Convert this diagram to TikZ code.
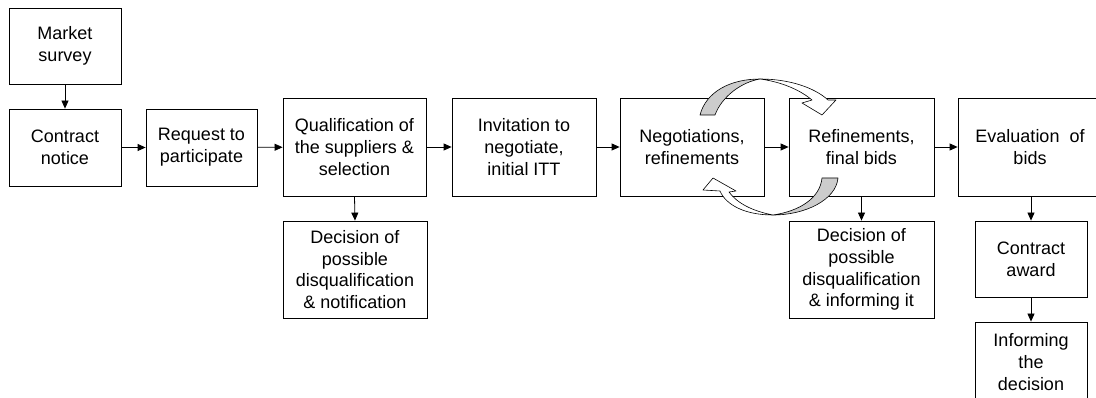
\documentclass[tikz,border=0pt]{standalone}
\usepackage{fontspec}
\setmainfont{Liberation Sans}
\usetikzlibrary{arrows.meta}
\begin{document}
\begin{tikzpicture}[x=1pt,y=-1pt,
  box/.style={draw, line width=0.8pt, inner sep=0pt, align=center,
              font=\fontsize{18}{21.7}\selectfont},
  flow/.style={draw, line width=0.8pt, -{Triangle[length=8pt,width=7pt]}},
  bandback/.style={draw, fill=gray!40, line width=0.6pt, line join=round},
  bandfront/.style={draw, fill=white, line width=0.6pt, line join=round},
]
\clip (0,0) rectangle (1096,398);
\fill[white] (0,0) rectangle (1096,398);

% process steps
\node[box, minimum width=112pt, minimum height=76pt] (ms) at (65,46) {Market\\survey};
\node[box, minimum width=112pt, minimum height=77pt] (cn) at (65,147.5) {Contract\\notice};
\node[box, minimum width=111pt, minimum height=77pt] (rp) at (201.5,147.5) {Request to\\participate};
\node[box, minimum width=143pt, minimum height=98pt] (qs) at (354.5,147) {Qualification of\\the suppliers \&\\selection};
\node[box, minimum width=144pt, minimum height=98pt] (it) at (524,147) {Invitation to\\negotiate,\\initial ITT};
\node[box, minimum width=144pt, minimum height=98pt] (ng) at (692,147) {Negotiations,\\refinements};
\node[box, minimum width=145pt, minimum height=98pt] (rf) at (861.5,147) {Refinements,\\final bids};
\node[box, minimum width=144pt, minimum height=98pt] (ev) at (1030,147) {Evaluation\ \ of\\bids};
\node[box, minimum width=144pt, minimum height=97pt] (d1) at (355,269.5) {Decision of\\possible\\disqualification\\\& notification};
\node[box, minimum width=145pt, minimum height=97pt] (d2) at (861.5,269.5) {Decision of\\possible\\disqualification\\\& informing it};
\node[box, minimum width=112pt, minimum height=76pt] (ca) at (1031,259) {Contract\\award};
\node[box, minimum width=112pt, minimum height=80pt] (inf) at (1031,362) {Informing\\the\\decision};

% connectors
\draw[flow] (ms) -- (cn);
\draw[flow] (cn) -- (rp);
\draw[flow] (rp) -- (qs);
\draw[flow] (qs) -- (it);
\draw[flow] (it) -- (ng);
\draw[flow] (ng) -- (rf);
\draw[flow] (rf) -- (ev);
\draw[flow] (qs.south) -- (d1.north);
\draw[flow] (rf.south) -- (d2.north);
\draw[flow] (ev.south -| ca) -- (ca.north);
\draw[flow] (ca) -- (inf);

% iteration loop: upper curved arrow (negotiations -> refinements)
\path[bandback] (700,115) .. controls (706,92) and (730,79) .. (760,79)
  .. controls (742,82) and (722,96) .. (715,115) -- cycle;
\path[bandfront] (760,79) .. controls (790,79) and (815,88) .. (828,100)
  -- (836,100) -- (822,115) -- (802,103) -- (812,100)
  .. controls (800,90) and (782,82) .. (760,79) -- cycle;

% iteration loop: lower curved arrow (refinements -> negotiations)
\path[bandback] (838,178) .. controls (836,200) and (805,215) .. (773,215)
  .. controls (800,211) and (820,198) .. (822,178) -- cycle;
\path[bandfront] (773,215) .. controls (745,215) and (726,205) .. (720,191)
  -- (703,190) -- (713,178) -- (736,191) -- (729,192)
  .. controls (737,203) and (752,211) .. (773,215) -- cycle;
\end{tikzpicture}
\end{document}
